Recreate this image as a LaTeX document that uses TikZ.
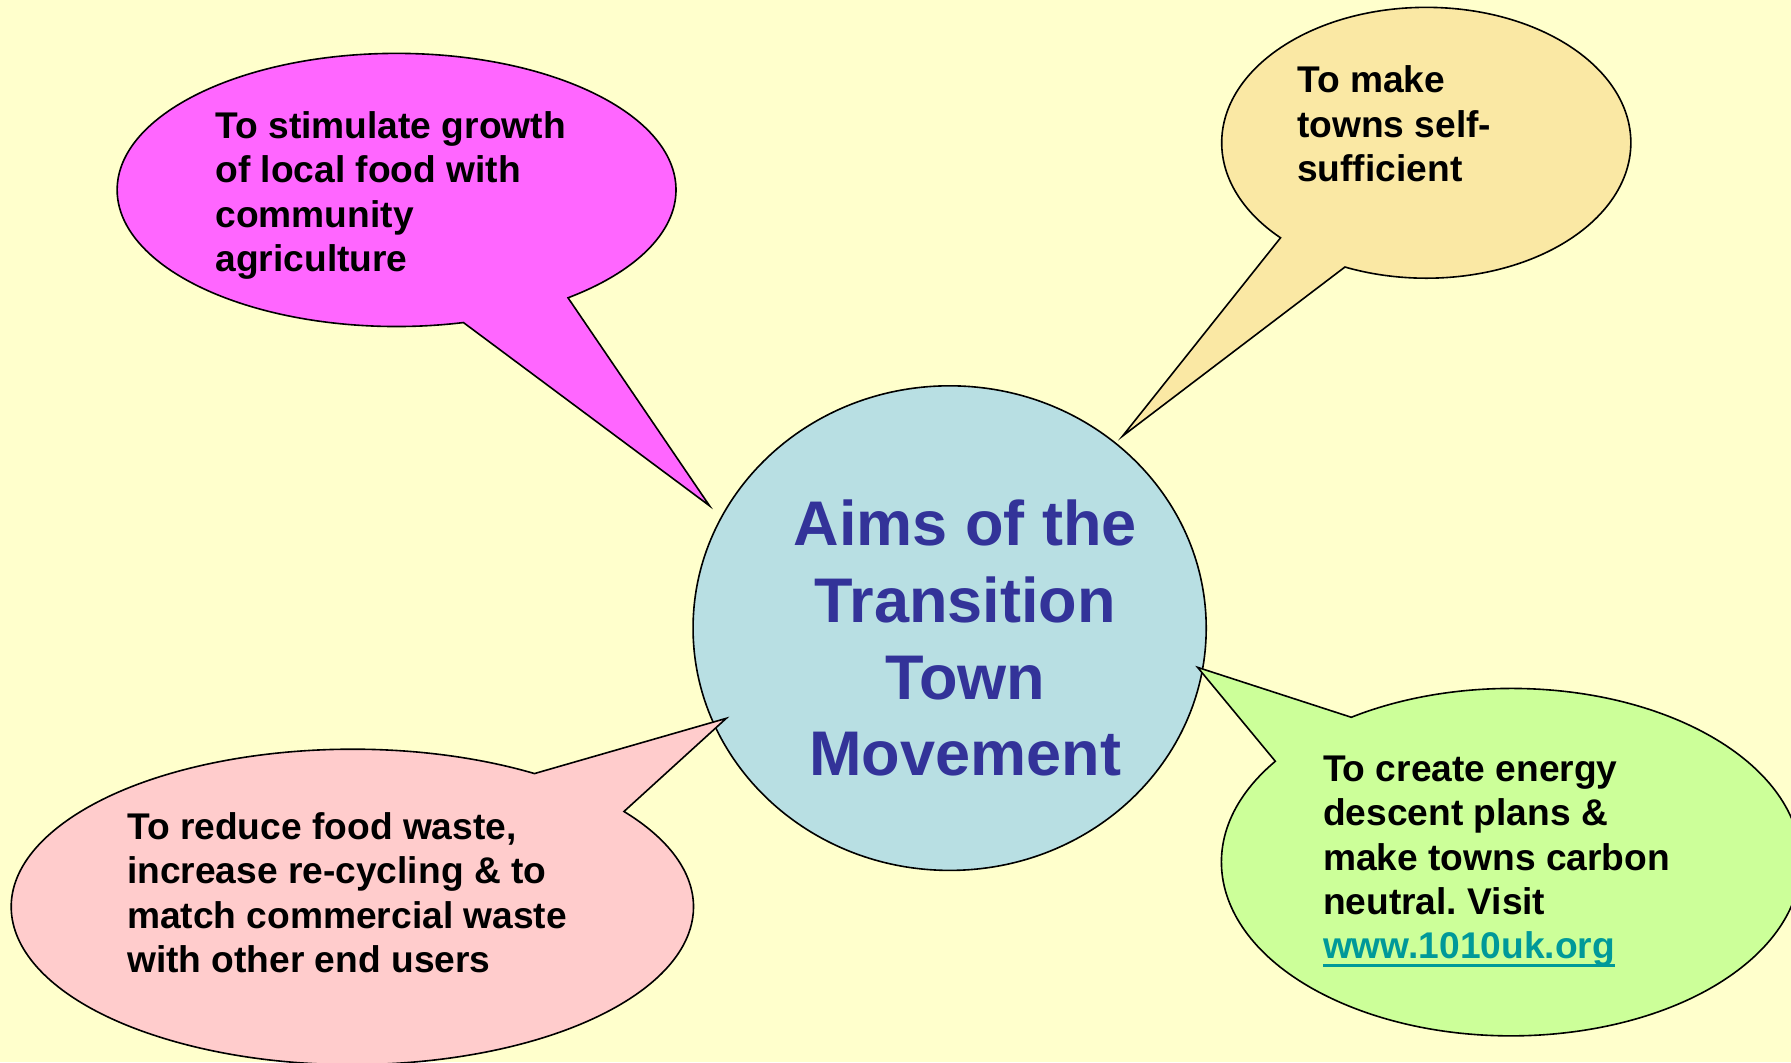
\documentclass[tikz,border=0pt]{standalone}
\usepackage{fontspec}
\setmainfont{Liberation Sans}
\frenchspacing
\usetikzlibrary{shapes.geometric,shapes.callouts,calc}
\definecolor{pageyellow}{HTML}{FFFFCC}
\definecolor{aimsblue}{HTML}{B8DFE3}
\definecolor{titleblue}{HTML}{333399}
\definecolor{foodpink}{HTML}{FF66FF}
\definecolor{selftan}{HTML}{FAE8A4}
\definecolor{wastepink}{HTML}{FFCCCC}
\definecolor{energygreen}{HTML}{CCFF99}
\definecolor{urlteal}{HTML}{009999}
\newlength\urlwd
\newcommand\urlunder[1]{\settowidth\urlwd{#1}\rlap{\rule[-2pt]{\urlwd}{0.8pt}}#1}
\tikzset{bubble/.style={ellipse callout, draw=black, thin, inner sep=0pt},
  aimsbox/.style={ellipse, draw=black, thin, fill=aimsblue, inner sep=0pt,
    minimum width=4.49cm, minimum height=4.24cm},
  aimstext/.style={align=center, inner sep=0pt, text=titleblue,
    font=\fontsize{15.7}{19.1}\selectfont\bfseries},
  bubbletext/.style={align=left, inner sep=0pt, anchor=north west,
    font=\fontsize{9.25}{11.05}\selectfont\bfseries}
}

\begin{document}
\begin{tikzpicture}[x=0.01cm, y=-0.01cm]
  \useasboundingbox (0,0) rectangle (1568,930);
  \fill[pageyellow] (0,0) rectangle (1568,930);

  %Aims node
  \node (aims) [aimsbox] at (831.4,549.9) {};
  \node (aimstitle) [aimstext, anchor=north] at (845,437)
    {Aims of the\\Transition\\Town\\Movement};

  %Pointer tips
  \coordinate (foodtip) at ($(aims.center)!1.06!(aims.153.5)$);
  \coordinate (selftip) at ($(aims.center)!1.037!(aims.48.3)$);
  \coordinate (wastetip) at ($(aims.center)!0.944!(aims.202.3)$);
  \coordinate (energytip) at ($(aims.center)!0.977!(aims.-9.5)$);

  %Food node
  \node (food) [bubble, fill=foodpink, minimum width=4.89cm, minimum height=2.39cm,
    callout pointer arc=24, callout absolute pointer={(foodtip)}] at (347.2,166.3) {};
  \node (foodtext) [bubbletext] at (188,97)
    {To stimulate growth\\of local food with\\community\\agriculture};

  %Self-sufficiency node
  \node (self) [bubble, fill=selftan, minimum width=3.58cm, minimum height=2.37cm,
    callout pointer arc=22, callout absolute pointer={(selftip)}] at (1248.7,125) {};
  \node (selftext) [bubbletext] at (1135,57)
    {To make\\towns self-\\sufficient};

  %Waste node
  \node (waste) [bubble, fill=wastepink, minimum width=5.97cm, minimum height=2.76cm,
    callout pointer arc=20.5, callout absolute pointer={(wastetip)}] at (308.5,794) {};
  \node (wastetext) [bubbletext] at (110.6,710.5)
    {To reduce food waste,\\increase re-cycling \& to\\match commercial waste\\with other end users};

  %Energy node
  \node (energy) [bubble, fill=energygreen, minimum width=5.07cm, minimum height=3.04cm,
    callout pointer arc=21, callout absolute pointer={(energytip)}] at (1323,754.8) {};
  \node (energytext) [bubbletext] at (1157.6,661)
    {To create energy\\descent plans \&\\make towns carbon\\neutral. Visit\\{\color{urlteal}\urlunder{www.1010uk.org}}};

\end{tikzpicture}
\end{document}
